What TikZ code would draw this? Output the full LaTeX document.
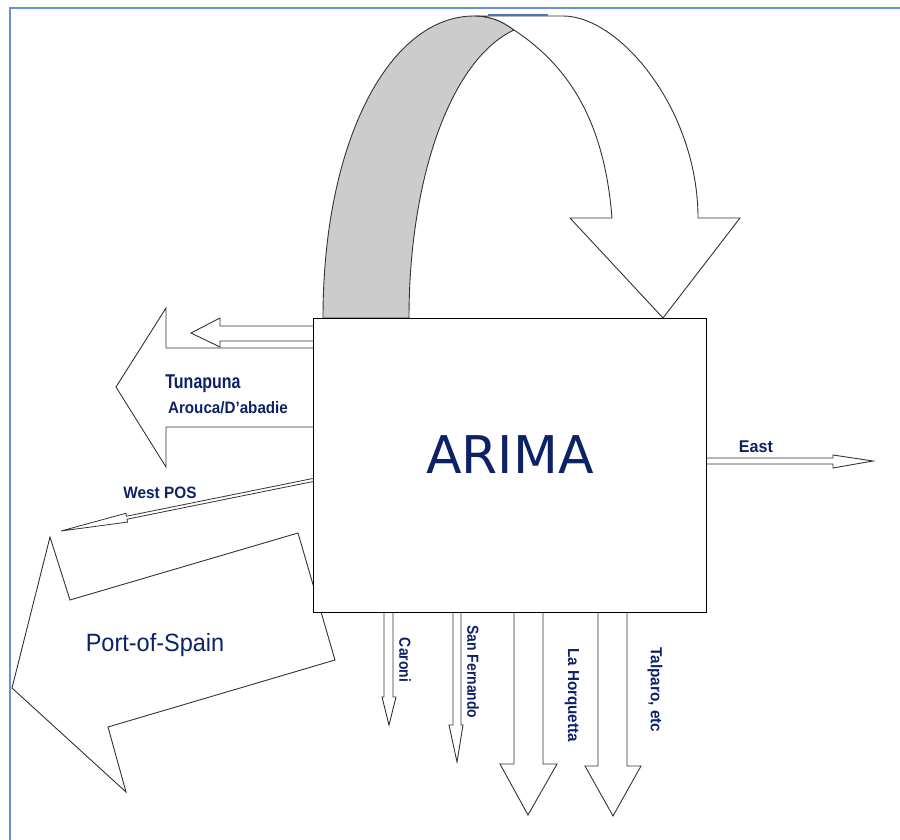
\documentclass[tikz,border=0pt]{standalone}
\usepackage{fontspec}
\usepackage{graphicx}
\setmainfont{Liberation Sans}
\newfontfamily\arimafont{DejaVu Sans}
\definecolor{navy}{HTML}{0D2266}
\definecolor{frameblue}{HTML}{6592D6}
\definecolor{bandgray}{HTML}{CCCCCC}
\begin{document}
\begin{tikzpicture}[x=1pt,y=-1pt,
  shapeline/.style={draw=black!80, line width=0.9pt, fill=white, line join=miter},
  lbl/.style={text=navy, font=\bfseries, inner sep=0pt},
  frameline/.style={draw=frameblue, line width=2pt}]
\useasboundingbox (0,0) rectangle (900,840);
% frame
\draw[frameline] (9,8) -- (900,8);
\draw[frameline] (10,8) -- (10,840);
% left arrows (behind the box)
\draw[shapeline] (313,348) -- (166,348) -- (166,308) -- (116,387) -- (166,467) -- (166,427) -- (313,427);
\draw[shapeline] (313,326) -- (220,326) -- (220,318) -- (191,333) -- (220,347) -- (220,341) -- (313,341);
\draw[shapeline] (50,537) -- (70,600) -- (298,533) -- (335,660) -- (108,727) -- (126,792) -- (12,688) -- cycle;
\draw[shapeline, line width=0.8pt] (313.3,481.5) -- (127,519.2) -- (127.6,522.1) -- (61,531) -- (125.8,513.3) -- (126.4,516.2) -- (312.7,478.5);
% curved arrow
\draw[shapeline, fill=bandgray] (323,318) .. controls (323,140) and (390,16) .. (474,16)
  .. controls (492,16) and (503,22) .. (514,30)
  .. controls (450,60) and (409,180) .. (409,318) -- cycle;
\draw[shapeline] (474,16) -- (563,16) .. controls (620,16) and (698,110) .. (698,218)
  -- (740,218) -- (663,318) -- (570,218) -- (612,218)
  .. controls (605,130) and (575,70) .. (514,30)
  .. controls (503,22) and (492,16) .. (474,16) -- cycle;
\draw[draw=frameblue!80!black, line width=1.2pt] (488,15) -- (548,15);
% bottom arrows
\draw[shapeline] (384,612) -- (384,697) -- (382,697) -- (389,725) -- (396,697) -- (393,697) -- (393,612);
\draw[shapeline] (453,612) -- (453,725) -- (449,725) -- (457,762) -- (463,725) -- (461,725) -- (461,612);
\draw[shapeline] (514,612) -- (514,764) -- (500,764) -- (528,815) -- (557,764) -- (543,764) -- (543,612);
\draw[shapeline] (598,612) -- (598,766) -- (585,766) -- (613,816) -- (641,766) -- (627,766) -- (627,612);
% east arrow
\draw[shapeline] (706,458) -- (833,458) -- (833,455) -- (873,461) -- (833,468) -- (833,464) -- (706,464);
% main box
\node[draw=black, line width=1pt, fill=white, minimum width=393pt, minimum height=294pt, inner sep=0pt] (arima) at (509.5,465) {};
\node[text=navy, inner sep=0pt, anchor=base, font=\arimafont\fontsize{52}{52}\selectfont] (arimalabel) at (510,473) {ARIMA};
% labels
\node[lbl, anchor=base] (tuna) at (203,388) {\fontsize{20}{20}\selectfont\scalebox{0.8}[1]{Tunapuna}};
\node[lbl, anchor=base] (arouca) at (228,413) {\fontsize{16.5}{16.5}\selectfont\scalebox{0.92}[1]{Arouca/D'abadie}};
\node[lbl, anchor=base] (westpos) at (160,498) {\fontsize{16.5}{16.5}\selectfont\scalebox{0.93}[1]{West POS}};
\node[lbl, anchor=base] (east) at (756,452) {\fontsize{17}{17}\selectfont\scalebox{0.95}[1]{East}};
\node[text=navy, inner sep=0pt, anchor=base] (pos) at (155,651) {\fontsize{25}{25}\selectfont\scalebox{0.94}[1]{Port-of-Spain}};
\node[lbl, rotate=-90] (caroni) at (405,660) {\fontsize{16}{16}\selectfont\scalebox{0.87}[1]{Caroni}};
\node[lbl, rotate=-90] (sanf) at (473,672) {\fontsize{16}{16}\selectfont\scalebox{0.87}[1]{San Fernando}};
\node[lbl, rotate=-90] (lah) at (572,695) {\fontsize{16}{16}\selectfont\scalebox{0.95}[1]{La Horquetta}};
\node[lbl, rotate=-90] (talp) at (655,690) {\fontsize{16}{16}\selectfont\scalebox{0.96}[1]{Talparo, etc}};
\end{tikzpicture}
\end{document}
